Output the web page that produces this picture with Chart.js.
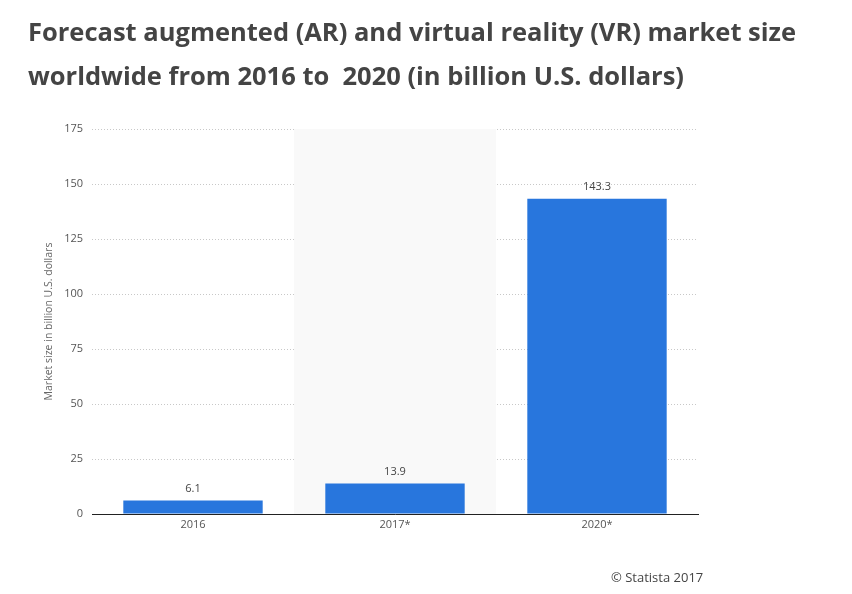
<!DOCTYPE html>
<html>
<head>
<meta charset="utf-8">
<script src="https://cdn.jsdelivr.net/npm/chart.js@4/dist/chart.umd.min.js"></script>
<style>
  html, body { margin: 0; padding: 0; background: #fff; }
  body { width: 852px; height: 594px; position: relative; overflow: hidden; font-family: "Open Sans", sans-serif; }
  #title { position: absolute; left: 28px; top: 9px; margin: 0; font-size: 25.5px; font-weight: 700; color: #444; line-height: 44px; white-space: nowrap; }
  #source { position: absolute; left: 611px; top: 568px; font-size: 13px; color: #444; }
  #wrap { position: absolute; left: 0; top: 0; width: 852px; height: 594px; }
</style>
</head>
<body>
<div id="wrap"><canvas id="myChart"></canvas></div>
<h1 id="title">Forecast augmented (AR) and virtual reality (VR) market size<br>worldwide from 2016 to &nbsp;2020 (in billion U.S. dollars)</h1>
<div id="source">© Statista 2017</div>
<script>
const years = ["2016", "2017*", "2020*"];
const marketSize = [6.1, 13.9, 143.3];
const yTicks = [0, 25, 50, 75, 100, 125, 150, 175];
const shadedYear = "2017*";

// light band behind the 2017 column
const bandPlugin = {
  id: "band",
  beforeDatasetsDraw(chart) {
    const x = chart.scales.x, area = chart.chartArea;
    const i = years.indexOf(shadedYear);
    const w = (area.right - area.left) / years.length;
    const cx = x.getPixelForValue(i);
    const ctx = chart.ctx;
    ctx.save();
    ctx.fillStyle = "#f9f9f9";
    ctx.fillRect(cx - w / 2, area.top, w, area.bottom - area.top);
    ctx.restore();
  }
};

// value labels above bars
const labelPlugin = {
  id: "valueLabels",
  afterDatasetsDraw(chart) {
    const ctx = chart.ctx;
    const meta = chart.getDatasetMeta(0);
    ctx.save();
    ctx.font = "11px 'Open Sans'";
    ctx.fillStyle = "#444";
    ctx.textAlign = "center";
    ctx.textBaseline = "bottom";
    meta.data.forEach((bar, i) => {
      ctx.fillText(marketSize[i].toFixed(1), bar.x, bar.y - 6);
    });
    ctx.restore();
  }
};

const ctx = document.getElementById("myChart").getContext("2d");
new Chart(ctx, {
  type: "bar",
  data: {
    labels: years,
    datasets: [{
      data: marketSize,
      backgroundColor: "#2876dd",
      barPercentage: 0.69,
      categoryPercentage: 1
    }]
  },
  options: {
    responsive: true,
    maintainAspectRatio: false,
    animation: false,
    layout: { padding: { top: 129, right: 154, bottom: 0, left: 0 } },
    plugins: { legend: { display: false }, tooltip: { enabled: false } },
    scales: {
      x: {
        grid: { display: false, drawTicks: false },
        border: { color: "#222", width: 1 },
        ticks: { color: "#555", font: { family: "Open Sans", size: 11 }, padding: 4 },
        afterFit(s) { s.height = 80; }
      },
      y: {
        min: 0,
        max: 175,
        afterBuildTicks(s) { s.ticks = yTicks.map(v => ({ value: v })); },
        grid: { color: "#c8c8c8", drawTicks: false },
        border: { display: false, dash: [1, 2] },
        ticks: { color: "#555", font: { family: "Open Sans", size: 11 }, padding: 9 },
        title: {
          display: true,
          text: "Market size in billion U.S. dollars",
          color: "#666",
          font: { family: "Open Sans", size: 10.5 },
          padding: { top: 43 }
        },
        afterFit(s) { s.width = 92; }
      }
    }
  },
  plugins: [bandPlugin, labelPlugin]
});
</script>
</body>
</html>
